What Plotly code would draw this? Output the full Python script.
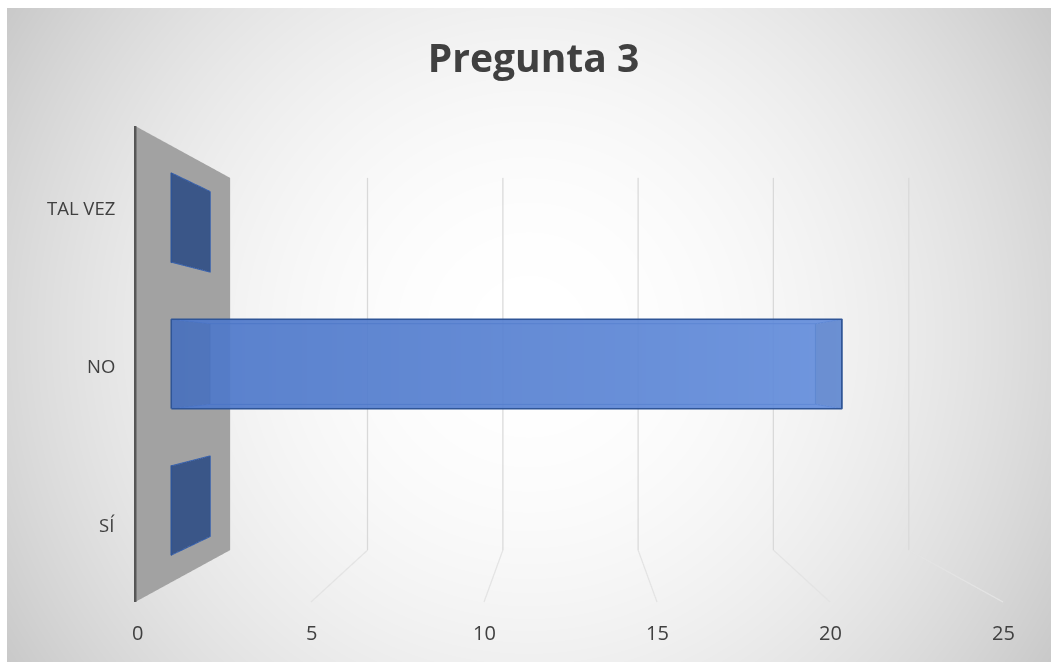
import base64
import struct
import zlib

import numpy as np
import plotly.graph_objects as go

# ---------------- data ----------------
categories = ["SÍ", "NO", "TAL VEZ"]
values = [0, 21, 0]
value_ticks = [0, 5, 10, 15, 20, 25]
chart_title = "Pregunta 3"

FIG_W, FIG_H = 1051, 663
TEXT = "#404040"
FONT = "Open Sans"


# ---------------- radial grey background of the chart area ----------------
def png_bytes(gray):
    h, w = gray.shape
    raw = b"".join(b"\x00" + gray[r].tobytes() for r in range(h))

    def chunk(tag, data):
        body = tag + data
        return (struct.pack(">I", len(data)) + body
                + struct.pack(">I", zlib.crc32(body) & 0xFFFFFFFF))

    header = struct.pack(">IIBBBBB", w, h, 8, 0, 0, 0, 0)
    return (b"\x89PNG\r\n\x1a\n" + chunk(b"IHDR", header)
            + chunk(b"IDAT", zlib.compress(raw, 9)) + chunk(b"IEND", b""))


AREA_X0, AREA_Y0, AREA_X1, AREA_Y1 = 7, 8, 1051, 662
aw, ah = AREA_X1 - AREA_X0, AREA_Y1 - AREA_Y0
yy, xx = np.mgrid[0:ah, 0:aw].astype(float)
cx, cy = (aw - 1) / 2, (ah - 1) / 2
r2 = ((xx - cx) ** 2 + (yy - cy) ** 2) / (cx ** 2 + cy ** 2)
shade = np.clip(np.round(255 - 54 * r2), 0, 255).astype(np.uint8)
bg_src = "data:image/png;base64," + base64.b64encode(png_bytes(shade)).decode()

# ---------------- 3-D frame geometry ----------------
VP_X, VP_Y = 570.5, 364.0          # centre of the front frame (pixels)
FRONT_W, FRONT_H = 865.0, 476.0    # size of the front frame (pixels)
DEPTH_RATIO = 0.782                # back frame size / front frame size
EYE = 2.0
TAN_HALF_FOV = np.tan(np.pi / 8)

dom_w = 2 * (FIG_W - VP_X)
dom_h = 2 * (FIG_H - VP_Y)
dom_x = [1 - dom_w / FIG_W, 1.0]
dom_y = [0.0, dom_h / FIG_H]

half_depth = EYE * (1 - DEPTH_RATIO) / (1 + DEPTH_RATIO)
d_front = EYE - half_depth
px_per_unit = dom_h / (2 * TAN_HALF_FOV * d_front)
half_w = FRONT_W / 2 / px_per_unit
half_h = FRONT_H / 2 / px_per_unit

x_lo, x_hi = value_ticks[0], value_ticks[-1]
z_lo, z_hi = -0.5, len(categories) - 0.5
y_lo, y_hi = 0.0, 1.0                     # front .. back of the box
PAD_X, PAD_Y, PAD_Z = 0.2, 0.03, 0.03

x_range = [x_lo - PAD_X, x_hi + PAD_X]
y_range = [y_lo - PAD_Y, y_hi + PAD_Y]
z_range = [z_lo - PAD_Z, z_hi + PAD_Z]
aspect = dict(
    x=2 * half_w * (x_range[1] - x_range[0]) / (x_hi - x_lo),
    y=2 * half_depth * (y_range[1] - y_range[0]) / (y_hi - y_lo),
    z=2 * half_h * (z_range[1] - z_range[0]) / (z_hi - z_lo),
)

FLAT = dict(ambient=1, diffuse=0, specular=0, roughness=1, fresnel=0)
fig = go.Figure()

# left wall
WALL_X = -0.08
fig.add_trace(go.Mesh3d(
    x=[WALL_X] * 4, y=[y_lo, y_hi, y_hi, y_lo], z=[z_lo, z_lo, z_hi, z_hi],
    i=[0, 0], j=[1, 2], k=[2, 3], color="#A2A2A2", flatshading=True,
    lighting=FLAT, hoverinfo="skip", showscale=False,
))

# gridlines: vertical on the back wall, receding on the floor
wx, wy, wz, fx, fy, fz = [], [], [], [], [], []
for v in value_ticks[1:]:
    wx += [v, v, None]
    wy += [y_hi, y_hi, None]
    wz += [z_lo, z_hi, None]
    fx += [v, v, None]
    fy += [y_lo, y_hi, None]
    fz += [z_lo, z_lo, None]
fig.add_trace(go.Scatter3d(
    x=wx, y=wy, z=wz, mode="lines", line=dict(color="#D9D9D9", width=2.5),
    hoverinfo="skip", showlegend=False,
))
fig.add_trace(go.Scatter3d(
    x=fx, y=fy, z=fz, mode="lines", line=dict(color="#E3E3E3", width=2.5),
    hoverinfo="skip", showlegend=False,
))

# category axis line along the front edge of the wall
fig.add_trace(go.Scatter3d(
    x=[WALL_X, WALL_X], y=[y_lo, y_lo], z=[z_lo, z_hi], mode="lines",
    line=dict(color="#404040", width=4.5), hoverinfo="skip", showlegend=False,
))

# bars
BAR_HALF = 0.305
BAR_Y0, BAR_Y1 = 0.30, 0.72
BAR_OPACITY = 0.75
FRONT_L, FRONT_R = "#4F79CA", "#6D96E2"
SIDE = "#4A72C2"
END = "#335186"

for idx, (cat, val) in enumerate(zip(categories, values)):
    x0, x1 = 0.0, float(val)
    y0, y1 = BAR_Y0, BAR_Y1
    z0, z1 = idx - BAR_HALF, idx + BAR_HALF
    faces = [
        # back, ends, bottom, top, then the front face last
        ([(x0, y1, z0), (x1, y1, z0), (x1, y1, z1), (x0, y1, z1)], [SIDE] * 4),
        ([(x0, y0, z0), (x0, y1, z0), (x0, y1, z1), (x0, y0, z1)], [END] * 4),
        ([(x1, y0, z0), (x1, y1, z0), (x1, y1, z1), (x1, y0, z1)], [END] * 4),
        ([(x0, y0, z0), (x1, y0, z0), (x1, y1, z0), (x0, y1, z0)], [SIDE] * 4),
        ([(x0, y0, z1), (x1, y0, z1), (x1, y1, z1), (x0, y1, z1)], [SIDE] * 4),
        ([(x0, y0, z0), (x1, y0, z0), (x1, y0, z1), (x0, y0, z1)],
         [FRONT_L, FRONT_R, FRONT_R, FRONT_L]),
    ]
    vx, vy, vz, vc, ti, tj, tk = [], [], [], [], [], [], []
    for quad, cols in faces:
        b = len(vx)
        for (px, py, pz), c in zip(quad, cols):
            vx.append(px); vy.append(py); vz.append(pz); vc.append(c)
        ti += [b, b]; tj += [b + 1, b + 2]; tk += [b + 2, b + 3]
    fig.add_trace(go.Mesh3d(
        x=vx, y=vy, z=vz, i=ti, j=tj, k=tk, vertexcolor=vc,
        opacity=BAR_OPACITY, flatshading=True, lighting=FLAT,
        hoverinfo="skip", name=cat,
    ))

    # box edges: back outline and depth edges, then the front outline
    ex = [x0, x1, x1, x0, x0, None, x0, x0, None, x1, x1, None, x1, x1, None, x0, x0]
    ey = [y1, y1, y1, y1, y1, None, y0, y1, None, y0, y1, None, y0, y1, None, y0, y1]
    ez = [z0, z0, z1, z1, z0, None, z0, z0, None, z0, z0, None, z1, z1, None, z1, z1]
    fig.add_trace(go.Scatter3d(
        x=ex, y=ey, z=ez, mode="lines", line=dict(color="#3560AE", width=2),
        hoverinfo="skip", showlegend=False,
    ))
    fig.add_trace(go.Scatter3d(
        x=[x0, x1, x1, x0, x0], y=[y0] * 5, z=[z0, z0, z1, z1, z0], mode="lines",
        line=dict(color="#2F5597", width=3.5), hoverinfo="skip", showlegend=False,
    ))

# axis labels placed on the front frame
annotations = []
for idx, cat in enumerate(categories):
    annotations.append(dict(
        x=x_lo, y=y_lo, z=idx, text=cat, showarrow=False, xanchor="right",
        yanchor="middle", xshift=-21, yshift=-2,
        font=dict(family=FONT, size=18.5, color=TEXT),
    ))
for v in value_ticks:
    annotations.append(dict(
        x=v, y=y_lo, z=z_lo, text=str(v), showarrow=False, xanchor="center",
        yanchor="top", yshift=-15, font=dict(family=FONT, size=20, color=TEXT),
    ))

hidden = dict(visible=False, showspikes=False)
fig.update_layout(
    width=FIG_W, height=FIG_H, autosize=False,
    margin=dict(l=0, r=0, t=0, b=0),
    paper_bgcolor="white",
    showlegend=False,
    hovermode=False,
    title=dict(
        text=chart_title, x=533.5 / FIG_W, xanchor="center",
        y=1 - 58.5 / FIG_H, yanchor="middle",
        font=dict(family=FONT, size=39, color=TEXT, weight="bold"),
    ),
    images=[dict(
        source=bg_src, xref="paper", yref="paper",
        x=AREA_X0 / FIG_W, y=1 - AREA_Y0 / FIG_H,
        sizex=aw / FIG_W, sizey=ah / FIG_H,
        xanchor="left", yanchor="top", sizing="stretch", layer="below",
    )],
    scene=dict(
        domain=dict(x=dom_x, y=dom_y),
        xaxis=dict(range=x_range, **hidden),
        yaxis=dict(range=y_range, **hidden),
        zaxis=dict(range=z_range, **hidden),
        aspectmode="manual", aspectratio=aspect,
        camera=dict(
            eye=dict(x=0, y=-EYE, z=0), center=dict(x=0, y=0, z=0),
            up=dict(x=0, y=0, z=1), projection=dict(type="perspective"),
        ),
        bgcolor="rgba(0,0,0,0)",
        dragmode=False,
        annotations=annotations,
    ),
)

fig.write_html("out.html", config={"displayModeBar": False})
